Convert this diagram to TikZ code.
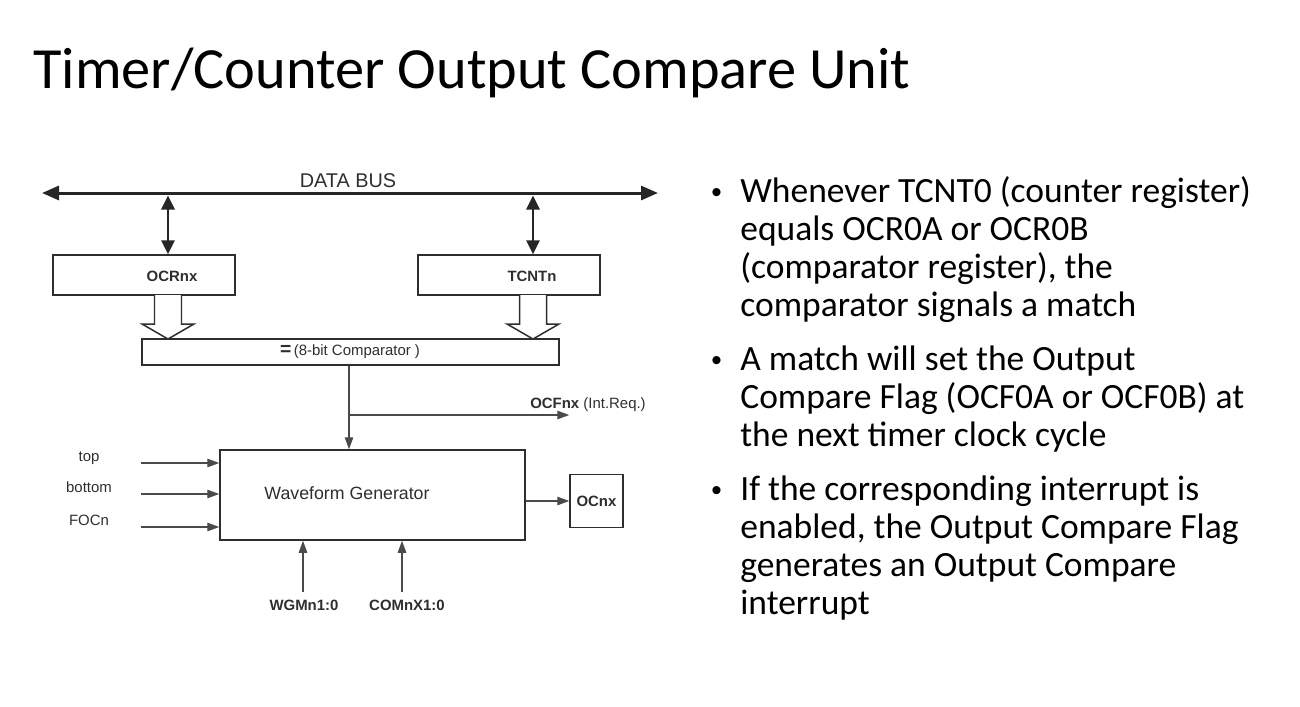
\documentclass[tikz,border=0pt]{standalone}
\usepackage{fontspec}
\setmainfont{Carlito}
\newfontfamily\diagfont{Liberation Sans}
\usetikzlibrary{arrows.meta}

\definecolor{inkgray}{HTML}{2E2E2E}
\definecolor{wiregray}{HTML}{4A4A4A}

\tikzset{
  box/.style={draw=inkgray, line width=0.85pt, inner sep=0pt},
  reg/.style={box, minimum width=3.64cm, minimum height=0.8cm},
  lbl/.style={inner sep=0pt, text=inkgray, font=\diagfont\fontsize{8.5}{10}\selectfont},
  blbl/.style={lbl, font=\diagfont\bfseries\fontsize{8.5}{10}\selectfont},
  sig/.style={draw=wiregray, line width=0.7pt, -{Triangle[length=2.4mm,width=1.7mm]}},
  bus/.style={draw=black!85, line width=1.7pt, {Triangle[length=3.4mm,width=2.8mm]}-{Triangle[length=3.4mm,width=2.8mm]}},
  dbl/.style={draw=black!85, line width=1.6pt, {Triangle[length=2.8mm,width=2.6mm]}-{Triangle[length=2.8mm,width=2.6mm]}},
  hollow/.style={draw=inkgray, line width=0.85pt, fill=white},
  txtline/.style={anchor=base west, inner sep=0pt, font=\fontsize{20.2}{24}\selectfont},
}

\begin{document}
\begin{tikzpicture}[x=0.2mm, y=-0.2mm]
\useasboundingbox (0,0) rectangle (1300,706);

% Titel
\node[anchor=base west, inner sep=0pt, font=\fontsize{33.2}{38}\selectfont] (title) at (33,88) {Timer/Counter Output Compare Unit};

% Datenbus
\node[lbl, anchor=base, font=\diagfont\fontsize{11.3}{13}\selectfont] (bus) at (348,187) {DATA BUS};
\coordinate (busL) at (42,193);
\coordinate (busR) at (658,193);
\draw[bus] (busL) -- (busR);

% Register
\node[reg] (ocr) at (144,275) {};
\node[reg] (tcnt) at (509,275) {};
\node[blbl] (ocrtxt) at (172,276) {OCRnx};
\node[blbl] (tcnttxt) at (532,276) {TCNTn};

\coordinate (tapA) at (168,193);
\coordinate (tapB) at (533,193);
\draw[dbl, shorten <=0.5mm] (tapA) -- (tapA |- ocr.north);
\draw[dbl, shorten <=0.5mm] (tapB) -- (tapB |- tcnt.north);

% Vergleicher
\foreach \hx in {168,533}
  \draw[hollow] ({\hx-13.5},295) -- ({\hx-13.5},324) -- ({\hx-26},324) -- (\hx,339)
    -- ({\hx+26},324) -- ({\hx+13.5},324) -- ({\hx+13.5},295);

\node[box, minimum width=8.34cm, minimum height=0.52cm] (cmp) at (350.5,352) {};
\node[lbl] (cmptxt) at (350,352) {{\bfseries\fontsize{11}{11}\selectfont =}\,(8-bit Comparator )};

% Waveform Generator
\node[box, minimum width=6.1cm, minimum height=1.8cm] (wg) at (372.5,495) {};
\node[lbl, anchor=base, font=\diagfont\fontsize{10.1}{12}\selectfont] (wgtxt) at (347,499) {Waveform Generator};
\node[box, minimum width=1.06cm, minimum height=1.06cm, blbl] (ocnx) at (596.5,501) {OCnx};

\coordinate (tap) at (349,415);
\draw[sig] (cmp.south -| tap) -- (wg.north -| tap);
\draw[sig] (tap) -- (tap -| ocnx.west);
\node[lbl, anchor=base] (ocf) at (588,408) {\textbf{OCFnx} (Int.Req.)};
\draw[sig] (wg.east |- ocnx) -- (ocnx.west);

% Eingaenge
\foreach \yy/\txt/\nm in {463/top/top, 494/bottom/bot, 527/FOCn/foc} {
  \node[lbl, anchor=base] (\nm) at (89,\yy-2) {\txt};
  \coordinate (\nm-in) at (141,\yy);
  \draw[sig] (\nm-in) -- (\nm-in -| wg.west);
}

\foreach \xx/\lx/\txt/\nm in {303/304/WGMn1:0/wgm, 402/407/COMnX1:0/com} {
  \node[blbl, anchor=base] (\nm) at (\lx,610) {\txt};
  \coordinate (\nm-in) at (\xx,592);
  \draw[sig] (\nm-in) -- (\nm-in |- wg.south);
}

% Text rechts
\foreach \yy [count=\i] in {202,370,500}
  \node[anchor=base west, inner sep=0pt, font=\diagfont\fontsize{17}{20}\selectfont] (dot\i) at (711,\yy) {•};
\foreach \yy/\txt [count=\i] in {
  202/{Whenever TCNT0 (counter register)},
  240/{equals OCR0A or OCR0B},
  278/{(comparator register), the},
  316/{comparator signals a match},
  370/{A match will set the Output},
  408/{Compare Flag (OCF0A or OCF0B) at},
  446/{the next timer clock cycle},
  500/{If the corresponding interrupt is},
  538/{enabled, the Output Compare Flag},
  576/{generates an Output Compare},
  614/{interrupt}}
  \node[txtline] (line\i) at (740,\yy) {\txt};
\end{tikzpicture}
\end{document}
